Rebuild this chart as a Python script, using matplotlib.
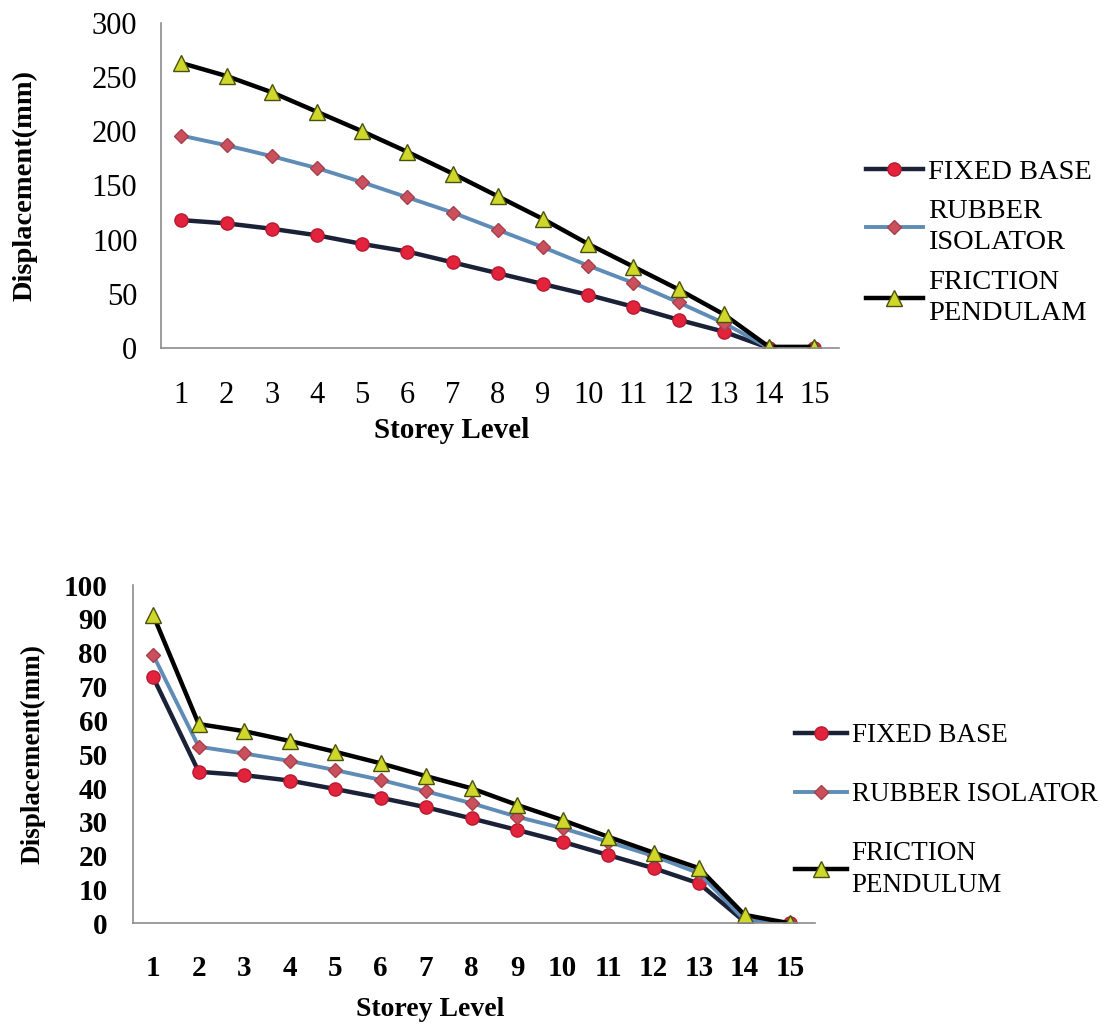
import matplotlib
matplotlib.use("Agg")
import matplotlib.pyplot as plt

plt.rcParams["font.family"] = ["Liberation Serif", "DejaVu Serif"]

STOREYS = list(range(1, 16))

# top chart (mm)
FIXED_TOP = [118, 115, 110, 104, 96, 89, 79, 69, 59, 49, 38, 26, 15, 0, 0]
RUBBER_TOP = [196, 187, 177, 166, 153, 139, 125, 109, 93, 76, 60, 42, 23, 0, 0]
FRICTION_TOP = [263, 251, 236, 218, 200, 181, 161, 140, 119, 96, 75, 54, 31, 1, 1]
YTICKS_TOP = [0, 50, 100, 150, 200, 250, 300]
LABELS_TOP = ["FIXED BASE", "RUBBER\nISOLATOR", "FRICTION\nPENDULAM"]

# bottom chart (mm)
FIXED_BOT = [72.7, 44.8, 43.8, 42.2, 39.7, 37.1, 34.3, 31.0, 27.6, 24.1, 20.2, 16.3, 11.8, 0.5, 0]
RUBBER_BOT = [79.3, 52.2, 50.2, 48.0, 45.3, 42.4, 39.0, 35.5, 31.5, 28.1, 24.1, 19.9, 14.8, 1.0, 0]
FRICTION_BOT = [91.1, 58.9, 56.8, 53.9, 50.7, 47.3, 43.5, 39.9, 35.0, 30.5, 25.6, 20.9, 16.3, 2.5, 0]
YTICKS_BOT = list(range(0, 101, 10))
LABELS_BOT = ["FIXED BASE", "RUBBER ISOLATOR", "FRICTION\nPENDULUM"]

FB_STYLE = dict(color="#1b2238", lw=3.2, marker="o", ms=9.5, mfc="#e3223c", mec="#b81a30", mew=1)
RI_STYLE = dict(color="#5f8cb6", lw=2.8, marker="D", ms=7, mfc="#c9505c", mec="#a8404a", mew=1)
FP_STYLE = dict(color="#000000", lw=3.2, marker="^", ms=11, mfc="#cfd82a", mec="#4a5010", mew=1)


def style_axes(ax, yticks, ymax, bold, size):
    weight = "bold" if bold else "normal"
    ax.set_xlim(0.55, 15.55)
    ax.set_ylim(0, ymax)
    ax.set_xticks(STOREYS)
    ax.set_yticks(yticks)
    ax.set_xticklabels([str(s) for s in STOREYS], fontsize=size, fontweight=weight)
    ax.set_yticklabels([str(t) for t in yticks], fontsize=size, fontweight=weight)
    ax.tick_params(length=0)
    for side in ("top", "right"):
        ax.spines[side].set_visible(False)
    for side in ("left", "bottom"):
        ax.spines[side].set_color("#8c8c8c")
        ax.spines[side].set_linewidth(1.2)


fig = plt.figure(figsize=(11.08, 10.24), dpi=100)

# ---- top chart ----
ax1 = fig.add_axes([0.1453, 0.6602, 0.612, 0.3174])
ax1.plot(STOREYS, FIXED_TOP, label=LABELS_TOP[0], **FB_STYLE)
ax1.plot(STOREYS, RUBBER_TOP, label=LABELS_TOP[1], **RI_STYLE)
ax1.plot(STOREYS, FRICTION_TOP, label=LABELS_TOP[2], **FP_STYLE)
style_axes(ax1, YTICKS_TOP, 300, False, 22)
ax1.tick_params(axis="x", pad=24)
ax1.tick_params(axis="y", pad=17)
ax1.set_ylabel("Displacement(mm)", fontsize=20.5, fontweight="bold")
ax1.yaxis.set_label_coords(-0.182, 0.5)
fig.text(452 / 1108, 1 - 430 / 1024, "Storey Level", fontsize=21, fontweight="bold",
         ha="center", va="center")
leg1 = ax1.legend(loc="upper left", bbox_to_anchor=(840 / 1108, 1 - 133 / 1024),
                  bbox_transform=fig.transFigure, frameon=False, fontsize=20.5,
                  handlelength=2.0, handletextpad=0.18, labelspacing=0.5)
for t in leg1.get_texts():
    t.set_linespacing(1.35)

# ---- bottom chart ----
ax2 = fig.add_axes([0.1198, 0.0983, 0.6158, 0.3304])
ax2.plot(STOREYS, FIXED_BOT, label=LABELS_BOT[0], **FB_STYLE)
ax2.plot(STOREYS, RUBBER_BOT, label=LABELS_BOT[1], **RI_STYLE)
ax2.plot(STOREYS, FRICTION_BOT, label=LABELS_BOT[2], **FP_STYLE)
style_axes(ax2, YTICKS_BOT, 100, True, 21)
ax2.tick_params(axis="x", pad=23)
ax2.tick_params(axis="y", pad=18)
ax2.set_ylabel("Displacement(mm)", fontsize=19.5, fontweight="bold")
ax2.yaxis.set_label_coords(-0.128, 0.5)
fig.text(430 / 1108, 1 - 1010 / 1024, "Storey Level", fontsize=20, fontweight="bold",
         ha="center", va="center")
leg2 = ax2.legend(loc="upper left", bbox_to_anchor=(771 / 1108, 1 - 699 / 1024),
                  bbox_transform=fig.transFigure, frameon=False, fontsize=19.5,
                  handlelength=1.9, handletextpad=0.18, labelspacing=1.25)
for t in leg2.get_texts():
    t.set_linespacing(1.35)

fig.savefig("out.png", dpi=100, facecolor="white")
